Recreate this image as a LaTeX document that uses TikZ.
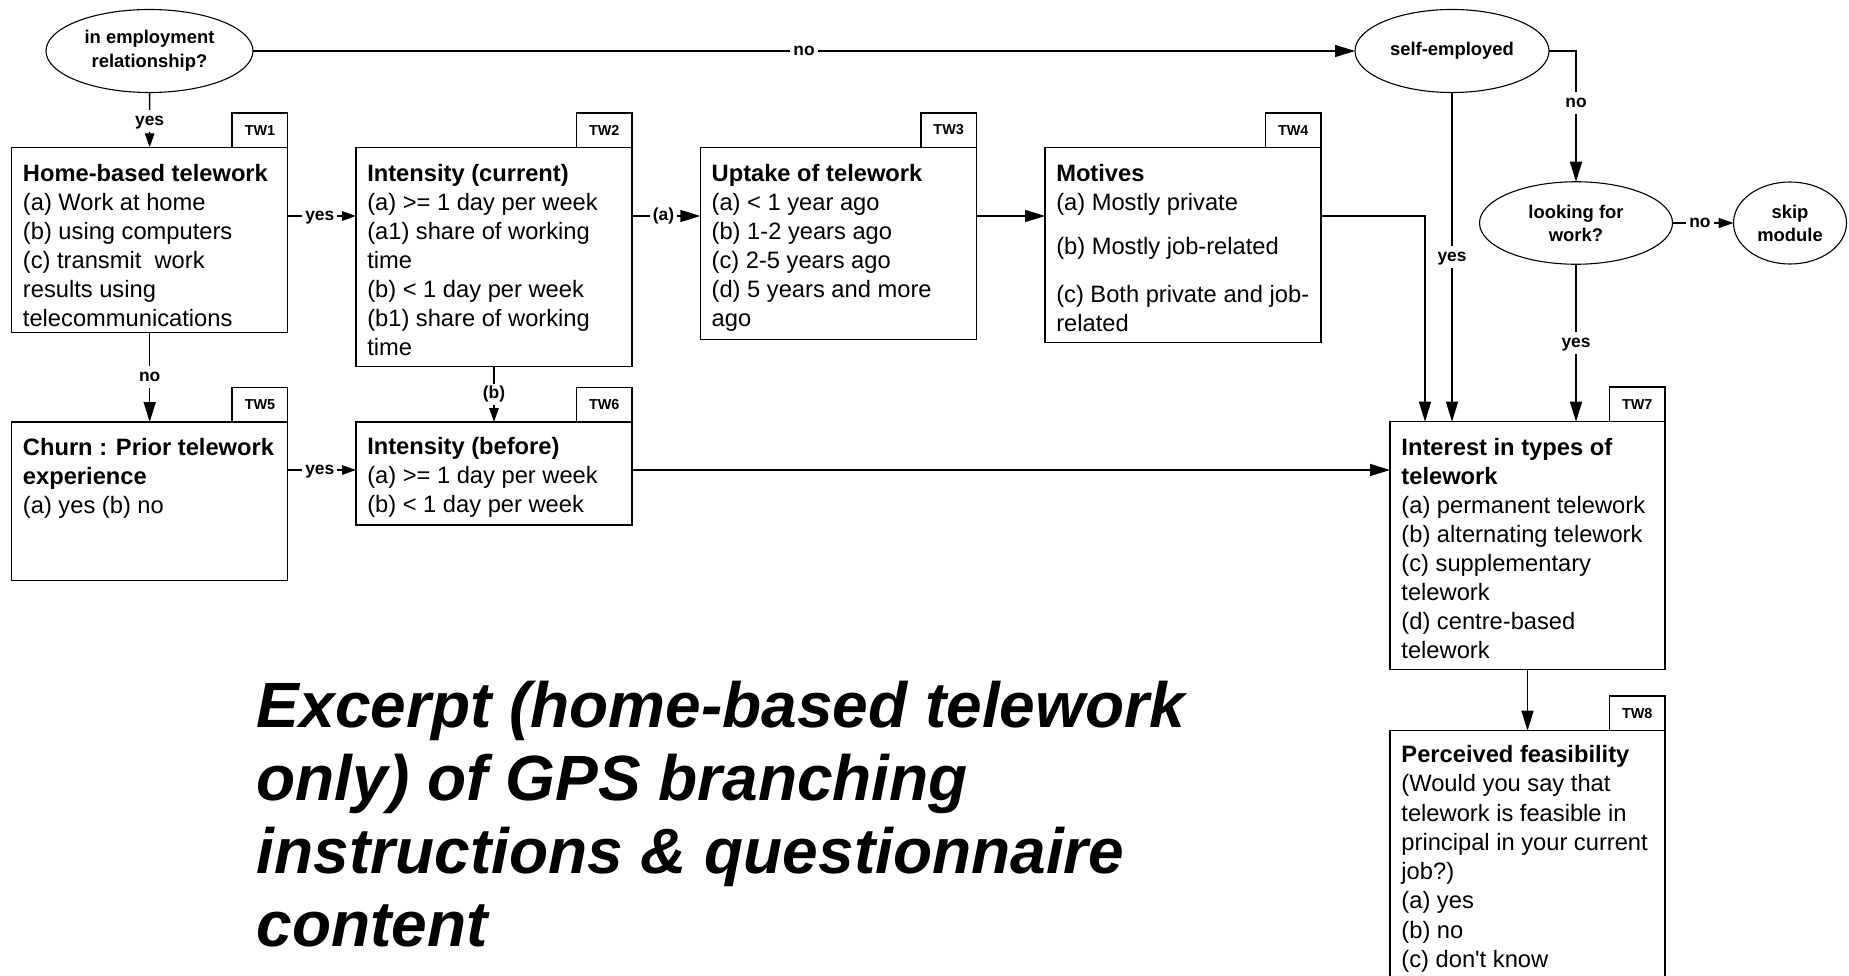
\documentclass[tikz,border=0pt]{standalone}
\usepackage{fontspec}
\setmainfont{Liberation Sans}[Ligatures=TeXOff]
\usetikzlibrary{shapes.geometric,arrows.meta,calc}
\begin{document}
\begin{tikzpicture}[x=1pt,y=-1pt,
  line width=1.5pt,
  box/.style={draw, rectangle, inner sep=0pt, outer sep=0pt, anchor=north west, minimum width=276pt},
  tag/.style={draw, rectangle, inner sep=0pt, outer sep=0pt, minimum width=55.5pt, minimum height=34.5pt, anchor=south east, font=\fontsize{14.4}{16}\selectfont\bfseries},
  txt/.style={anchor=north west, inner sep=0pt, align=left, font=\fontsize{23.7}{29}\selectfont},
  oval/.style={draw, line width=1.1pt, ellipse, inner sep=0pt, outer sep=0pt, align=center, font=\fontsize{18.4}{24}\selectfont\bfseries},
  lbl/.style={fill=white, inner sep=3pt, font=\fontsize{17.4}{20}\selectfont\bfseries, text height=12pt, text depth=3.5pt},
  big/.style={-{Triangle[length=20pt,width=12pt]}},
  small/.style={-{Triangle[length=14pt,width=9.5pt]}},
  mid/.style={-{Triangle[length=15pt,width=10pt]}},
]
\useasboundingbox (0,0) rectangle (1849,976);
\clip (0,0) rectangle (1849,976);

% decision ovals
\node[oval, minimum width=207pt, minimum height=83pt] (emp) at (149.5,51) {in employment\\relationship?};
\node[oval, minimum width=194pt, minimum height=83pt] (self) at (1452,51) {self-employed};
\node[oval, minimum width=193pt, minimum height=82.5pt, font=\fontsize{18.4}{23}\selectfont\bfseries] (look) at (1576,223) {looking for\\work?};
\node[oval, minimum width=113pt, minimum height=82pt, font=\fontsize{18.4}{23}\selectfont\bfseries] (skip) at (1790,223) {skip\\module};

% question boxes
\node[box, minimum height=185.4pt] (tw1) at (11.7,147.3) {};
\node[box, minimum height=219.4pt] (tw2) at (356,147.3) {};
\node[box, minimum height=192pt] (tw3) at (700.4,147.3) {};
\node[box, minimum height=195.4pt] (tw4) at (1045,147.3) {};
\node[box, minimum height=158.7pt] (tw5) at (11.7,422) {};
\node[box, minimum height=103pt] (tw6) at (356,422) {};
\node[box, minimum width=275pt, minimum height=247.6pt] (tw7) at (1390,421.7) {};
\node[box, minimum width=275pt, minimum height=262pt] (tw8) at (1390,730.7) {};

% tags
\node[tag] (t1) at (tw1.north east) {TW1};
\node[tag] (t2) at (tw2.north east) {TW2};
\node[tag] (t3) at (tw3.north east) {TW3};
\node[tag] (t4) at (tw4.north east) {TW4};
\node[tag] (t5) at (tw5.north east) {TW5};
\node[tag] (t6) at (tw6.north east) {TW6};
\node[tag] (t7) at (tw7.north east) {TW7};
\node[tag] (t8) at (tw8.north east) {TW8};

% box texts
\node[txt] (x1) at ($(tw1.north west)+(10.5,15)$) {\rule{0pt}{18pt}\textbf{Home-based telework}\\(a) Work at home\\(b) using computers\\(c) transmit\ \ work\\results using\\telecommunications};
\node[txt] (x2) at ($(tw2.north west)+(10.5,15)$) {\rule{0pt}{18pt}\textbf{Intensity (current)}\\(a) >= 1 day per week\\(a1) share of working\\time\\(b) < 1 day per week\\(b1) share of working\\time};
\node[txt] (x3) at ($(tw3.north west)+(10.5,15)$) {\rule{0pt}{18pt}\textbf{Uptake of telework}\\(a) < 1 year ago\\(b) 1-2 years ago\\(c) 2-5 years ago\\(d) 5 years and more\\ago};
\node[txt] (x4) at ($(tw4.north west)+(10.5,15)$) {\rule{0pt}{18pt}\textbf{Motives}\\(a) Mostly private\\[15.7pt](b) Mostly job-related\\[18.7pt](c) Both private and job-\\related};
\node[txt] (x5) at ($(tw5.north west)+(10.5,15)$) {\rule{0pt}{18pt}\textbf{Churn : Prior telework}\\\textbf{experience}\\(a) yes (b) no};
\node[txt] (x6) at ($(tw6.north west)+(10.5,13.3)$) {\rule{0pt}{18pt}\textbf{Intensity (before)}\\(a) >= 1 day per week\\(b) < 1 day per week};
\node[txt] (x7) at ($(tw7.north west)+(10.7,15.3)$) {\rule{0pt}{18pt}\textbf{Interest in types of}\\\textbf{telework}\\(a) permanent telework\\(b) alternating telework\\(c) supplementary\\telework\\(d) centre-based\\telework};
\node[txt, font=\fontsize{23.7}{29.3}\selectfont] (x8) at ($(tw8.north west)+(10.7,13)$) {\rule{0pt}{18pt}\textbf{Perceived feasibility}\\(Would you say that\\telework is feasible in\\principal in your current\\job?)\\(a) yes\\(b) no\\(c) don't know};

% title
\node[anchor=north west, inner sep=0pt, align=left, font=\fontsize{64}{73}\selectfont\bfseries\itshape] (title) at (256,677) {\rule{0pt}{50pt}Excerpt (home-based telework\\only) of GPS branching\\instructions \& questionnaire\\content};

% helper coordinates
\coordinate (r1) at (0,216);
\coordinate (r2) at (0,470);
\coordinate (in4) at ($(tw7.north west)+(35,0)$);

% connectors
\draw[big] (emp.east) -- node[lbl,pos=0.5]{no} (self.west);
\draw[small] (emp.south) -- node[lbl,pos=0.52]{yes} (tw1.north);
\draw[small] (tw1.east |- r1) -- node[lbl,pos=0.47]{yes} (tw2.west |- r1);
\draw[big] (tw2.east |- r1) -- node[lbl,pos=0.46]{(a)} (tw3.west |- r1);
\draw[big] (tw3.east |- r1) -- (tw4.west |- r1);
\draw[big] (tw4.east |- r1) -| (in4);
\draw[big] (self.south) -- node[lbl,pos=0.5]{yes} (self.south |- tw7.north);
\draw[big] (self.east) -| node[lbl,pos=0.698]{no} (look.north);
\draw[mid] (look.east) -- node[lbl,pos=0.45]{no} (skip.west);
\draw[big] (look.south) -- node[lbl,pos=0.5]{yes} (look.south |- tw7.north);
\draw[big] (tw1.south) -- node[lbl,pos=0.494]{no} (tw5.north);
\draw[small] (tw2.south) -- node[lbl,pos=0.5]{(b)} (tw6.north);
\draw[small] (tw5.east |- r2) -- node[lbl,pos=0.47]{yes} (tw6.west |- r2);
\draw[big] (tw6.east |- r2) -- (tw7.west |- r2);
\draw[big] (tw7.south) -- (tw8.north);
\end{tikzpicture}
\end{document}
